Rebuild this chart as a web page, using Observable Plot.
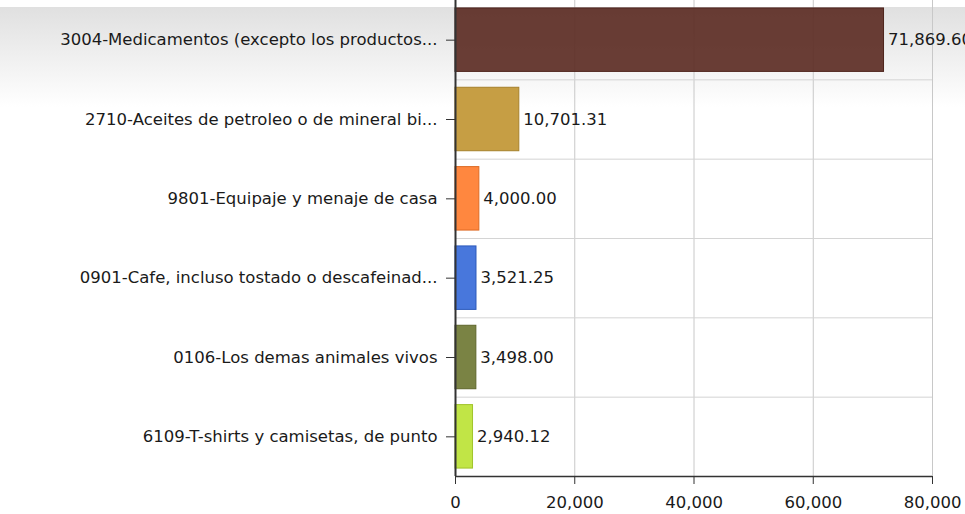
<!DOCTYPE html>
<html><head><meta charset="utf-8">
<script src="https://cdn.jsdelivr.net/npm/d3@7"></script>
<script src="https://cdn.jsdelivr.net/npm/@observablehq/plot@0.6"></script>
<style>
body{margin:0;background:#fff;}
#wrap{position:relative;width:965px;height:514px;overflow:hidden;}
#bg{position:absolute;left:0;top:7px;width:965px;height:100px;background:linear-gradient(#e0e0e0,#ffffff);}
#chart{position:absolute;left:0;top:0;}
</style></head><body>
<div id="wrap"><div id="bg"></div><div id="chart"></div></div>
<script>
const categories = [
  "3004-Medicamentos (excepto los productos...",
  "2710-Aceites de petroleo o de mineral bi...",
  "9801-Equipaje y menaje de casa",
  "0901-Cafe, incluso tostado o descafeinad...",
  "0106-Los demas animales vivos",
  "6109-T-shirts y camisetas, de punto"
];
const values = [71869.60, 10701.31, 4000.00, 3521.25, 3498.00, 2940.12];
const colors = ["#5a2920", "#c09430", "#ff7a2a", "#3468d8", "#6c7530", "#bae232"];
const xTicks = [0, 20000, 40000, 60000, 80000];

const W = 965, H = 514, ML = 455, MR = 33, MT = 0, MB = 38;
const halfStep = (H - MT - MB) / categories.length / 2;
const data = categories.map((c, i) => ({category: c, value: values[i], color: colors[i]}));
const fmt = d3.format(",.2f");

const chart = Plot.plot({
  width: W, height: H, marginLeft: ML, marginRight: MR, marginTop: MT, marginBottom: MB,
  style: {fontFamily: "'DejaVu Sans', Verdana, sans-serif", fontSize: "16.5px", color: "#1a1a1a", background: "transparent", overflow: "visible"},
  x: {domain: [0, 80000], ticks: xTicks, tickFormat: d3.format(","), label: null},
  y: {domain: categories, paddingInner: 0.2, paddingOuter: 0.1, round: false, label: null},
  color: {type: "identity"},
  marks: [
    Plot.ruleX(xTicks.slice(1), {stroke: "#c8c8c8", strokeWidth: 1}),
    Plot.ruleY(categories.slice(0, -1), {y: d => d, dy: halfStep, x1: 0, x2: 80000, stroke: "#d4d4d4", strokeWidth: 1}),
    Plot.barX(data, {x: "value", y: "category", fill: "color", fillOpacity: 0.9, stroke: d => d3.color(d.color).darker(0.4).formatHex(), strokeWidth: 1}),
    Plot.text(data, {x: "value", y: "category", text: d => fmt(d.value), textAnchor: "start", dx: 4, fill: "#1a1a1a", fontSize: 16.5}),
    Plot.axisX({ticks: xTicks, tickFormat: d3.format(","), tickSize: 8, tickPadding: 12, stroke: "#333", label: null}),
    Plot.ruleY([0], {x1: 0, x2: 80000, y: () => categories[categories.length - 1], dy: halfStep, stroke: "#333", strokeWidth: 1.5}),
    Plot.axisY({tickSize: 9, tickPadding: 9, stroke: "#333", label: null}),
    Plot.ruleX([0], {stroke: "#333", strokeWidth: 2})
  ]
});
document.getElementById("chart").appendChild(chart);
</script>
</body></html>
